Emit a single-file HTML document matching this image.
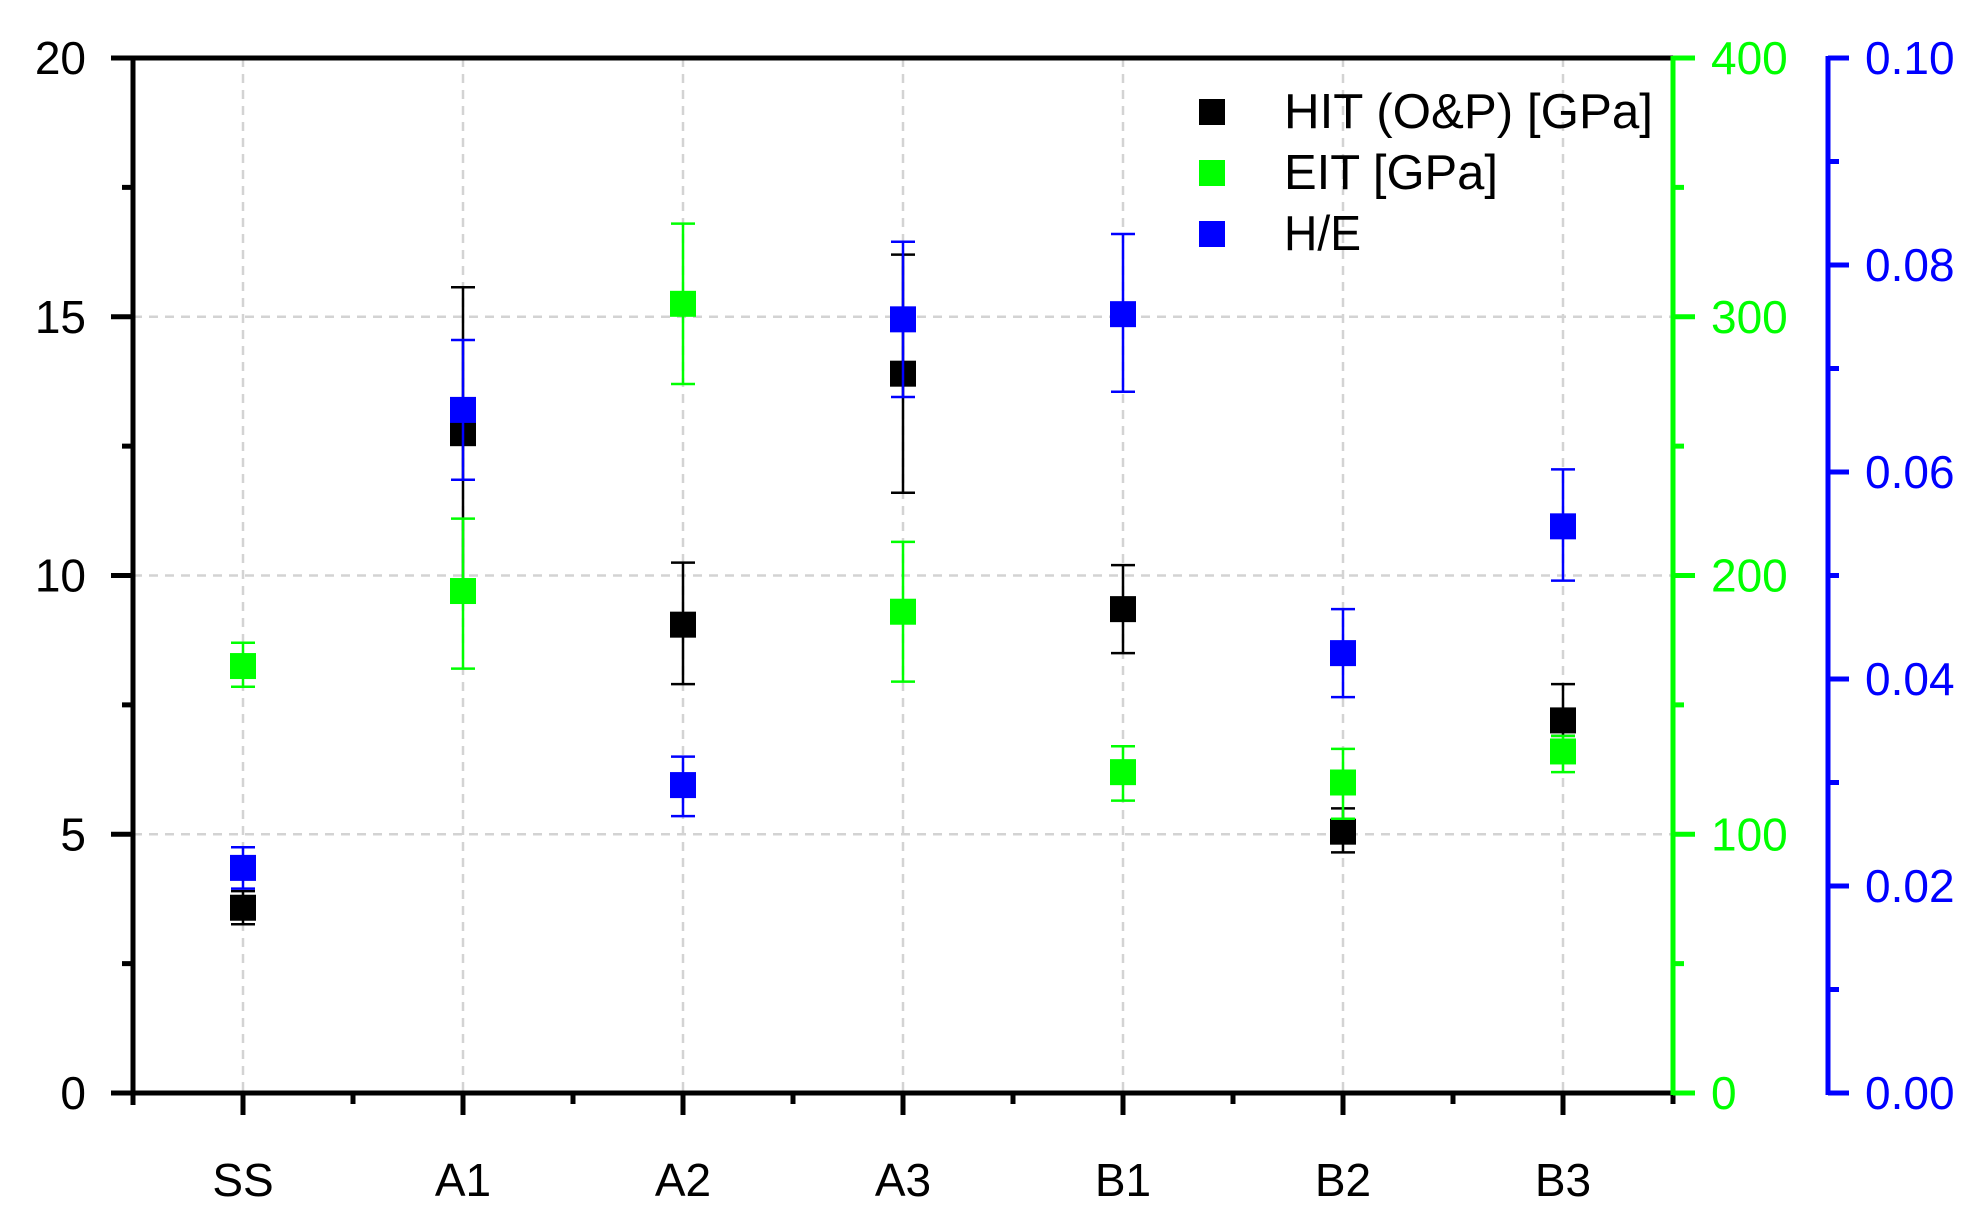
<!DOCTYPE html>
<html><head><meta charset="utf-8"><style>html,body{margin:0;padding:0;background:#fff}svg{display:block}</style></head>
<body>
<svg id="s" width="1978" height="1229" viewBox="0 0 1978 1229" xmlns="http://www.w3.org/2000/svg" font-family="Liberation Sans, Arial, sans-serif">
<g id="grid" stroke="#d3d3d3" stroke-width="2.5" stroke-dasharray="9,7"></g>
<g id="axes"></g>
<g id="data"></g>
<g font-size="49" fill="#000">
<rect x="1199" y="99" width="26" height="26" fill="#000"/>
<rect x="1199" y="160" width="26" height="26" fill="#00ff00"/>
<rect x="1199" y="221" width="26" height="26" fill="#0000ff"/>
<text x="1284" y="128" textLength="369" lengthAdjust="spacingAndGlyphs">HIT (O&amp;P) [GPa]</text>
<text x="1284" y="189" textLength="214" lengthAdjust="spacingAndGlyphs">EIT [GPa]</text>
<text x="1284" y="250" textLength="77" lengthAdjust="spacingAndGlyphs">H/E</text>
</g>
</svg>
<script>
const NS="http://www.w3.org/2000/svg";
function el(p,t,a,txt){const e=document.createElementNS(NS,t);for(const k in a)e.setAttribute(k,a[k]);if(txt!==undefined)e.textContent=txt;document.getElementById(p).appendChild(e);return e;}
const Y=v=>1093-v*51.75, X=i=>243+i*220;
for(let i=0;i<7;i++) el('grid','line',{x1:X(i),x2:X(i),y1:58,y2:1093});
for(const v of [5,10,15]) el('grid','line',{x1:133,x2:1673,y1:Y(v),y2:Y(v)});
el('axes','line',{x1:133,x2:133,y1:58,y2:1105,stroke:'#000','stroke-width':5});
el('axes','line',{x1:111,x2:1673,y1:58,y2:58,stroke:'#000','stroke-width':5});
el('axes','line',{x1:111,x2:1673,y1:1093,y2:1093,stroke:'#000','stroke-width':5});
for(let v=0;v<=20;v+=2.5){const maj=v%5==0;el('axes','line',{x1:maj?111:122,x2:133,y1:Y(v),y2:Y(v),stroke:'#000','stroke-width':5});
 if(maj) el('axes','text',{x:86,y:Y(v)+16,'font-size':46,'text-anchor':'end'},String(v));}
const cats=['SS','A1','A2','A3','B1','B2','B3'];
for(let i=0;i<7;i++){el('axes','line',{x1:X(i),x2:X(i),y1:1093,y2:1115,stroke:'#000','stroke-width':5});
 el('axes','line',{x1:X(i)+110,x2:X(i)+110,y1:1093,y2:1104,stroke:'#000','stroke-width':5});
 el('axes','text',{x:X(i),y:1196,'font-size':46,'text-anchor':'middle'},cats[i]);}
el('axes','line',{x1:1673,x2:1673,y1:56,y2:1095,stroke:'#00ff00','stroke-width':5});
for(let k=0;k<=8;k++){const y=1093-k*1035/8,maj=k%2==0;el('axes','line',{x1:1673,x2:maj?1695:1684,y1:y,y2:y,stroke:'#00ff00','stroke-width':5});
 if(maj) el('axes','text',{x:1711,y:y+16,'font-size':46,fill:'#00ff00'},String(k*50));}
el('axes','line',{x1:1828,x2:1828,y1:56,y2:1095,stroke:'#0000ff','stroke-width':5});
for(let k=0;k<=10;k++){const y=1093-k*103.5,maj=k%2==0;el('axes','line',{x1:1828,x2:maj?1849:1839,y1:y,y2:y,stroke:'#0000ff','stroke-width':5});
 if(maj) el('axes','text',{x:1865,y:y+16,'font-size':46,fill:'#0000ff'},(k/100).toFixed(2));}
const H=[[3.58,3.26,3.9],[12.75,9.9,15.57],[9.05,7.9,10.25],[13.9,11.6,16.2],[9.35,8.5,10.2],[5.05,4.65,5.5],[7.2,6.9,7.9]];
const E=[[8.25,7.85,8.7],[9.7,8.2,11.1],[15.25,13.7,16.8],[9.3,7.95,10.65],[6.2,5.65,6.7],[6.0,5.3,6.65],[6.6,6.2,6.9]];
const B=[[4.35,3.95,4.75],[13.2,11.85,14.55],[5.95,5.35,6.5],[14.95,13.45,16.45],[15.05,13.55,16.6],[8.5,7.65,9.35],[10.95,9.9,12.05]];
function ser(d,c){d.forEach((p,i)=>{const x=X(i);
 el('data','line',{x1:x,x2:x,y1:Y(p[1]),y2:Y(p[2]),stroke:c,'stroke-width':2.5});
 for(const v of [p[1],p[2]]) el('data','line',{x1:x-12,x2:x+12,y1:Y(v),y2:Y(v),stroke:c,'stroke-width':2.5});
 el('data','rect',{x:x-13,y:Y(p[0])-13,width:26,height:26,fill:c});});}
ser(H,'#000');ser(E,'#00ff00');ser(B,'#0000ff');
</script>
</body></html>
